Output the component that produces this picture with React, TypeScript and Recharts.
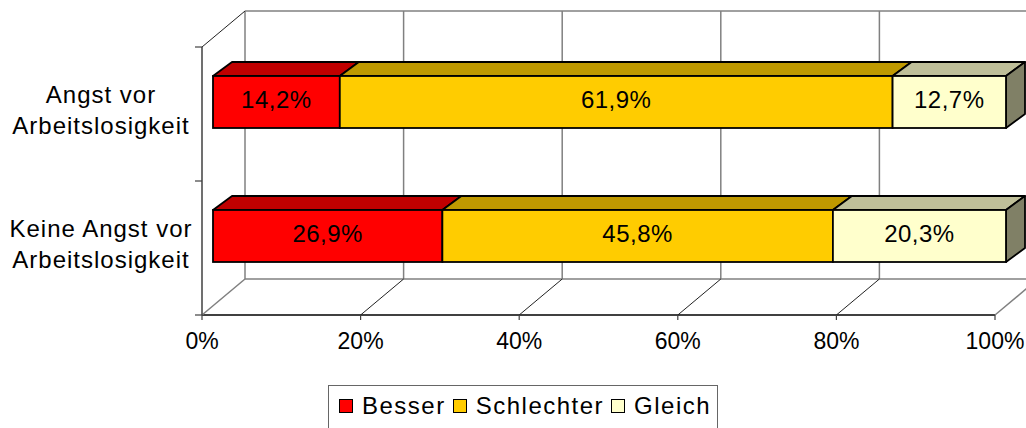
import { BarChart, Bar, XAxis, YAxis, CartesianGrid } from "recharts";

const categories = ["Angst vor\nArbeitslosigkeit", "Keine Angst vor\nArbeitslosigkeit"];
const besser = [14.2, 26.9];
const schlechter = [61.9, 45.8];
const gleich = [12.7, 20.3];
const xTicks = [0, 0.2, 0.4, 0.6, 0.8, 1];

const SERIES = [
  { key: "besser", name: "Besser", front: "#FF0000", top: "#C00000", side: "" },
  { key: "schlechter", name: "Schlechter", front: "#FFCC00", top: "#BF9900", side: "" },
  { key: "gleich", name: "Gleich", front: "#FFFFCC", top: "#BFBF99", side: "#808066" },
];

const data = categories.map((name, i) => ({
  name,
  besser: besser[i],
  schlechter: schlechter[i],
  gleich: gleich[i],
}));

const W = 1026;
const H = 428;
const PLOT_LEFT = 213;
const PLOT_RIGHT = 1006;
const PLOT_TOP = 35;
const PLOT_BOTTOM = 303;
const FONT = "'Liberation Sans', Arial, sans-serif";

// wall planes relative to the bars' front plane
const FRONT_DX = -11, FRONT_DY = 12;
const BACK_DX = 32, BACK_DY = -24;
// depth of the bar boxes
const DX = 19, DY = 14;

const fmt = (v: number) => v.toFixed(1).replace(".", ",") + "%";

function wallVertical(p: any) {
  const { x1, y1, y2, index } = p;
  const fx = x1 + FRONT_DX;
  const fyT = y1 + FRONT_DY;
  const fyB = y2 + FRONT_DY;
  const bx = x1 + BACK_DX;
  const edge = index === 0 || index === xTicks.length - 1;
  const n = categories.length;
  return (
    <g key={`v${index}`}>
      <line x1={bx} y1={y1 + BACK_DY} x2={bx} y2={y2 + BACK_DY} stroke="#808080" strokeWidth={1.5} />
      <line x1={fx} y1={fyB} x2={bx} y2={y2 + BACK_DY} stroke={edge ? "#808080" : "#222"} strokeWidth={edge ? 1.5 : 1} />
      <line x1={fx} y1={fyB} x2={fx} y2={fyB + 5} stroke="#404040" strokeWidth={1.2} />
      {index === 0 && (
        <>
          <line x1={fx} y1={fyT} x2={fx} y2={fyB} stroke="#404040" strokeWidth={1.5} />
          <line x1={fx} y1={fyT} x2={bx} y2={y1 + BACK_DY} stroke="#222" strokeWidth={1} />
          {Array.from({ length: n + 1 }, (_, k) => {
            const ty = fyT + (k * (y2 - y1)) / n;
            return <line key={k} x1={fx - 7} y1={ty} x2={fx} y2={ty} stroke="#404040" strokeWidth={1.2} />;
          })}
        </>
      )}
    </g>
  );
}

function wallHorizontal(p: any) {
  const { x1, x2, y1, index } = p;
  return (
    <g key={`h${index}`}>
      <line x1={x1 + BACK_DX} y1={y1 + BACK_DY} x2={x2 + BACK_DX + 40} y2={y1 + BACK_DY} stroke="#808080" strokeWidth={1.5} />
      {index === 1 && (
        <line x1={x1 + FRONT_DX} y1={y1 + FRONT_DY} x2={x2 + FRONT_DX} y2={y1 + FRONT_DY} stroke="#404040" strokeWidth={1.8} />
      )}
    </g>
  );
}

function Box3D(p: any) {
  const { x, y, width: w, height: h, payload, si } = p;
  const s = SERIES[si];
  const v = payload[s.key];
  return (
    <g>
      <polygon
        points={`${x},${y} ${x + DX},${y - DY} ${x + w + DX},${y - DY} ${x + w},${y}`}
        fill={s.top} stroke="#000" strokeWidth={1.8} strokeLinejoin="round"
      />
      {s.side && (
        <polygon
          points={`${x + w},${y} ${x + w + DX},${y - DY} ${x + w + DX},${y + h - DY} ${x + w},${y + h}`}
          fill={s.side} stroke="#000" strokeWidth={1.8} strokeLinejoin="round"
        />
      )}
      <rect x={x} y={y} width={w} height={h} fill={s.front} stroke="#000" strokeWidth={1.8} />
      <text
        x={x + w / 2} y={y + h / 2 + 6} textAnchor="middle"
        fontSize={24} fontFamily={FONT} letterSpacing={0.5} fill="#000"
      >
        {fmt(v)}
      </text>
    </g>
  );
}

function XTick(p: any) {
  const { x, payload } = p;
  return (
    <text x={x + FRONT_DX} y={PLOT_BOTTOM + 46} textAnchor="middle" fontSize={23} fontFamily={FONT} fill="#000">
      {Math.round(payload.value * 100)}%
    </text>
  );
}

function YTick(p: any) {
  const { y, payload } = p;
  const lines = String(payload.value).split("\n");
  const lx = PLOT_LEFT - 112;
  return (
    <text textAnchor="middle" fontSize={24} fontFamily={FONT} letterSpacing={1} fill="#000">
      {lines.map((l, i) => (
        <tspan key={i} x={lx} y={y + 1 + i * 31}>{l}</tspan>
      ))}
    </text>
  );
}

export default function App() {
  return (
    <div style={{ position: "absolute", left: 0, top: 0, width: W, height: H, background: "#fff" }}>
      <BarChart
        width={W}
        height={H}
        data={data}
        layout="vertical"
        stackOffset="expand"
        barSize={52}
        margin={{ top: PLOT_TOP, right: W - PLOT_RIGHT, bottom: 0, left: 0 }}
      >
        <CartesianGrid
          horizontalPoints={[PLOT_TOP, PLOT_BOTTOM]}
          horizontal={wallHorizontal}
          vertical={wallVertical}
        />
        <XAxis
          type="number" domain={[0, 1]} ticks={xTicks}
          axisLine={false} tickLine={false} tick={<XTick />}
          height={H - PLOT_BOTTOM} interval={0}
        />
        <YAxis
          type="category" dataKey="name" width={PLOT_LEFT}
          axisLine={false} tickLine={false} tick={<YTick />} interval={0}
        />
        {SERIES.map((s, i) => (
          <Bar
            key={s.key}
            dataKey={s.key}
            name={s.name}
            stackId="a"
            fill={s.front}
            isAnimationActive={false}
            shape={(p: any) => <Box3D {...p} si={i} />}
          />
        ))}
      </BarChart>

      {/* Legend */}
      <div
        style={{
          position: "absolute", left: 328, top: 385, width: 390, height: 60,
          border: "1px solid #666", background: "#fff", boxSizing: "border-box",
          display: "flex", alignItems: "center", paddingLeft: 10, paddingBottom: 18,
          fontFamily: FONT, fontSize: 24, letterSpacing: 1.5, color: "#000",
        }}
      >
        {SERIES.map((s) => (
          <div key={s.key} style={{ display: "flex", alignItems: "center", marginRight: 7 }}>
            <span
              style={{
                width: 14, height: 14, background: s.front, border: "1px solid #000",
                boxSizing: "border-box", marginRight: 9, display: "inline-block",
              }}
            />
            <span style={{ lineHeight: "28px" }}>{s.name}</span>
          </div>
        ))}
      </div>
    </div>
  );
}
